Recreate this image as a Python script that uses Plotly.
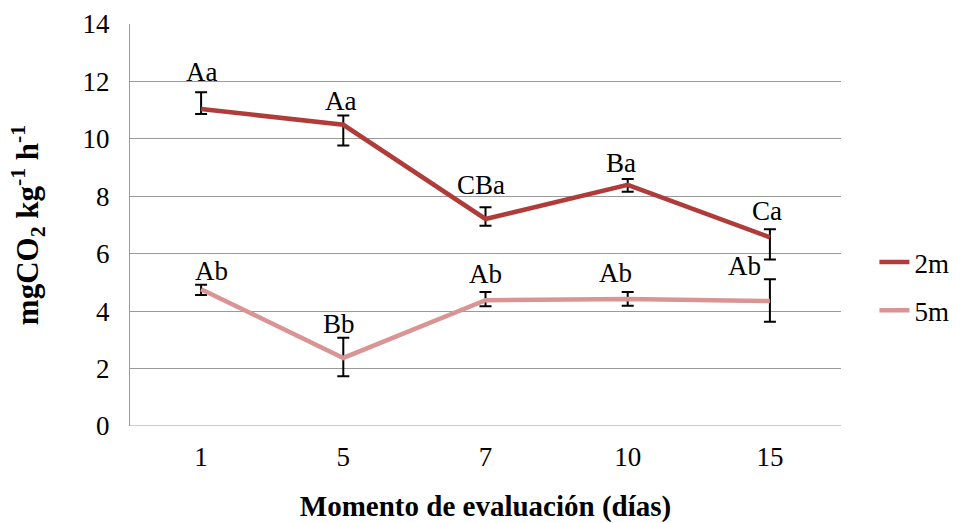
import plotly.graph_objects as go

# Evaluation moments (days) shown as categories
dias = ["1", "5", "7", "10", "15"]

# CO2 respiration rate, series 2m
resp_2m = [11.04, 10.49, 7.21, 8.40, 6.57]
err_2m_plus = [0.58, 0.32, 0.41, 0.20, 0.28]
err_2m_minus = [0.17, 0.72, 0.24, 0.24, 0.77]
letras_2m = ["Aa", "Aa", "CBa", "Ba", "Ca"]

# CO2 respiration rate, series 5m
resp_5m = [4.76, 2.37, 4.38, 4.42, 4.35]
err_5m_plus = [0.16, 0.70, 0.29, 0.25, 0.76]
err_5m_minus = [0.20, 0.64, 0.21, 0.23, 0.72]
letras_5m = ["Ab", "Bb", "Ab", "Ab", "Ab"]

FONT = "Liberation Serif, Times New Roman, serif"
COLOR_2M = "#B03C3A"
COLOR_5M = "#D99594"
GRID = "#9A9A9A"

fig = go.Figure()

def add_series(name, values, eplus, eminus, color, group):
    fig.add_trace(go.Scatter(
        x=dias, y=values, name=name, mode="lines",
        legendgroup=group,
        line=dict(color=color, width=4.5),
        error_y=dict(type="data", symmetric=False, array=eplus,
                     arrayminus=eminus, color="black", thickness=2, width=6),
    ))

add_series("2m", resp_2m, err_2m_plus, err_2m_minus, COLOR_2M, "g1")
add_series("5m", resp_5m, err_5m_plus, err_5m_minus, COLOR_5M, "g2")

# significance letters above each error bar (pixel offsets per label)
shift_2m = [(0, 20), (-3, 15), (-5, 22), (-7, 16), (-3, 18)]
shift_5m = [(10, 14), (-4, 14), (0, 18), (-12, 19), (-25, 13)]
for values, eplus, letters, shifts in (
        (resp_2m, err_2m_plus, letras_2m, shift_2m),
        (resp_5m, err_5m_plus, letras_5m, shift_5m)):
    for i, (v, e, t, (dx, dy)) in enumerate(zip(values, eplus, letters, shifts)):
        fig.add_annotation(x=i, y=v + e, text=t, showarrow=False,
                           xanchor="center", yanchor="middle",
                           xshift=dx, yshift=dy,
                           font=dict(family=FONT, size=27, color="black"))

fig.update_layout(
    width=966, height=523,
    margin=dict(l=130, r=123, t=24, b=97),
    paper_bgcolor="white", plot_bgcolor="white",
    font=dict(family=FONT, size=27, color="black"),
    showlegend=True,
    legend=dict(x=1.047, y=0.347, xanchor="left", yanchor="middle",
                tracegroupgap=10, font=dict(family=FONT, size=27),
                bgcolor="rgba(0,0,0,0)"),
    xaxis=dict(
        type="category", range=[-0.5, 4.5], showgrid=False, zeroline=False,
        showline=False, ticks="", ticklabelstandoff=12, automargin=False,
        tickfont=dict(family=FONT, size=27),
        title=dict(text="<b>Momento de evaluación (días)</b>",
                   font=dict(family=FONT, size=29), standoff=26),
    ),
    yaxis=dict(
        range=[0, 14], dtick=2, showgrid=True, gridcolor=GRID,
        gridwidth=1, zeroline=False, showline=True, linecolor=GRID,
        linewidth=1, ticks="", ticklabelstandoff=14, automargin=False,
        tickfont=dict(family=FONT, size=27),
        title=dict(text="<b>mgCO<sub>2</sub> kg<sup>-1</sup> h<sup>-1</sup></b>",
                   font=dict(family=FONT, size=31), standoff=34),
    ),
)
# bottom border of the plotting area
fig.add_shape(type="line", xref="paper", yref="y", x0=0, x1=1, y0=0, y1=0,
              line=dict(color=GRID, width=1), layer="below")

fig.write_html("out.html")
